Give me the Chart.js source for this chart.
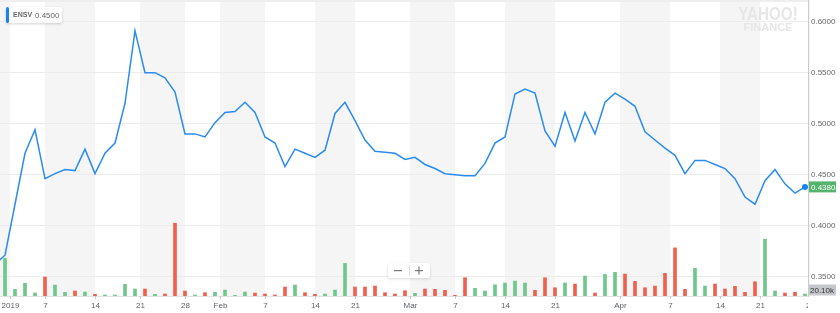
<!DOCTYPE html>
<html>
<head>
<meta charset="utf-8">
<script src="https://cdn.jsdelivr.net/npm/chart.js@4"></script>
<style>
  html, body { margin: 0; padding: 0; background: #fff; }
  canvas { display: block; }
</style>
</head>
<body>
<canvas id="chart" width="840" height="313"></canvas>
<script>
// trading days shown (first one sits just left of the plot)
const dates = [
  '2018-12-28', '2018-12-31',
  '2019-01-02', '2019-01-03', '2019-01-04', '2019-01-07', '2019-01-08', '2019-01-09', '2019-01-10',
  '2019-01-11', '2019-01-14', '2019-01-15', '2019-01-16', '2019-01-17', '2019-01-18', '2019-01-22',
  '2019-01-23', '2019-01-24', '2019-01-25', '2019-01-28', '2019-01-29', '2019-01-30', '2019-01-31',
  '2019-02-01', '2019-02-04', '2019-02-05', '2019-02-06', '2019-02-07', '2019-02-08', '2019-02-11',
  '2019-02-12', '2019-02-13', '2019-02-14', '2019-02-15', '2019-02-19', '2019-02-20', '2019-02-21',
  '2019-02-22', '2019-02-25', '2019-02-26', '2019-02-27', '2019-02-28',
  '2019-03-01', '2019-03-04', '2019-03-05', '2019-03-06', '2019-03-07', '2019-03-08', '2019-03-11',
  '2019-03-12', '2019-03-13', '2019-03-14', '2019-03-15', '2019-03-18', '2019-03-19', '2019-03-20',
  '2019-03-21', '2019-03-22', '2019-03-25', '2019-03-26', '2019-03-27', '2019-03-28', '2019-03-29',
  '2019-04-01', '2019-04-02', '2019-04-03', '2019-04-04', '2019-04-05', '2019-04-08', '2019-04-09',
  '2019-04-10', '2019-04-11', '2019-04-12', '2019-04-15', '2019-04-16', '2019-04-17', '2019-04-18',
  '2019-04-22', '2019-04-23', '2019-04-24', '2019-04-25', '2019-04-26'
];

// closing prices (USD)
const prices = [
  0.362, 0.371, 0.421, 0.471, 0.494, 0.446, 0.451, 0.455, 0.454, 0.475,
  0.451, 0.471, 0.481, 0.520, 0.591, 0.550, 0.550, 0.545, 0.531, 0.490,
  0.490, 0.487, 0.501, 0.511, 0.512, 0.521, 0.511, 0.487, 0.481, 0.458,
  0.475, 0.471, 0.467, 0.474, 0.510, 0.521, 0.503, 0.484, 0.473, 0.472,
  0.471, 0.465, 0.467, 0.460, 0.456, 0.451, 0.450, 0.449, 0.449, 0.461,
  0.481, 0.487, 0.529, 0.534, 0.530, 0.493, 0.478, 0.511, 0.483, 0.511,
  0.490, 0.521, 0.530, 0.524, 0.517, 0.492, 0.484, 0.476, 0.469, 0.451,
  0.464, 0.464, 0.460, 0.456, 0.446, 0.428, 0.421, 0.444, 0.455, 0.441,
  0.432, 0.438
];

// volume, thousands of shares
const volumes = [
  null,
  377, 67, 127, 30, 190, 110, 37, 50, 40, 17,
  10, 10, 117, 70, 70, 17, 20, 730, 50, 10,
  33, 37, 60, 7, 40, 30, 20, 10, 90, 110,
  33, 17, 20, 60, 327, 90, 90, 100, 33, 20,
  53, 27, 70, 67, 57, 7, 183, 77, 50, 113,
  130, 150, 130, 57, 183, 83, 130, 120, 200, 30,
  217, 237, 220, 147, 83, 100, 227, 483, 67, 277,
  100, 120, 70, 97, 37, 143, 570, 50, 30, 37,
  20.1
];

const tickDates = ['2019-01-01', '2019-01-07', '2019-01-14', '2019-01-21', '2019-01-28', '2019-02-01',
  '2019-02-07', '2019-02-14', '2019-02-21', '2019-03-01', '2019-03-07', '2019-03-14', '2019-03-21',
  '2019-04-01', '2019-04-07', '2019-04-14', '2019-04-21', '2019-04-29'];
const tickLabels = ['2019', '7', '14', '21', '28', 'Feb', '7', '14', '21', 'Mar', '7', '14', '21',
  'Apr', '7', '14', '21', '29'];
const priceTicks = [0.35, 0.40, 0.45, 0.50, 0.55, 0.60];
const symbol = 'ENSV';
const legendValue = '0.4500';

const FONT = '"Liberation Sans", Arial, sans-serif';
const BLUE = '#2b8cf0';
const GREEN = '#6fc78c';
const RED = '#f0604f';

// where a date tick sits on the trading-day axis:
// on the day itself, or between two days for month starts / closed days
function tickPos(d) {
  const i = dates.findIndex(x => x >= d);
  if (i < 0) return dates.length - 0.5;
  return (dates[i] === d && d.slice(8) !== '01') ? i : i - 0.5;
}
const tickValues = tickDates.map(tickPos);

const priceData = prices.map((p, i) => ({ x: i, y: p }));
const volumeData = volumes.map((v, i) => ({ x: i, y: v }));
const barColors = prices.map((p, i) => (i > 0 && p < prices[i - 1]) ? RED : GREEN);
const last = prices.length - 1;

const stripes = {
  id: 'stripes',
  beforeDraw(chart) {
    const { ctx, chartArea: a, scales: { x } } = chart;
    ctx.save();
    ctx.fillStyle = '#f5f5f5';
    const px = tickValues.map(v => x.getPixelForValue(v));
    // gray before the first tick, then every other week
    ctx.fillRect(0, 0, px[0], a.bottom);
    for (let k = 1; k < px.length; k += 2) {
      const r = Math.min(k + 1 < px.length ? px[k + 1] : a.right, a.right);
      ctx.fillRect(px[k], 0, r - px[k], a.bottom);
    }
    ctx.fillStyle = '#eeeeee';
    ctx.fillRect(0, 0, a.right, 2);
    ctx.restore();
  }
};

const lastDot = {
  id: 'lastDot',
  afterDatasetsDraw(chart) {
    const { ctx, scales: { x, y } } = chart;
    ctx.save();
    ctx.fillStyle = '#1a82f0';
    ctx.beginPath();
    ctx.arc(x.getPixelForValue(last), y.getPixelForValue(prices[last]), 3, 0, Math.PI * 2);
    ctx.fill();
    ctx.restore();
  }
};

const decorations = {
  id: 'decorations',
  afterDraw(chart) {
    const { ctx, chartArea: a, scales: { x, y, yv } } = chart;
    ctx.save();

    // x axis line, ticks and labels (clipped at the price axis)
    ctx.fillStyle = '#e2e2e2';
    ctx.fillRect(0, a.bottom, a.right, 1);
    ctx.beginPath();
    ctx.rect(0, a.bottom, a.right, 20);
    ctx.clip();
    ctx.font = '8px ' + FONT;
    ctx.textAlign = 'center';
    ctx.textBaseline = 'middle';
    tickValues.forEach((v, k) => {
      const p = Math.round(x.getPixelForValue(v)) + 0.5;
      ctx.strokeStyle = '#cccccc';
      ctx.lineWidth = 1;
      ctx.beginPath();
      ctx.moveTo(p, a.bottom);
      ctx.lineTo(p, a.bottom + 3);
      ctx.stroke();
      ctx.fillStyle = '#5f6368';
      ctx.fillText(tickLabels[k], p, a.bottom + 9.5);
    });
    ctx.restore();
    ctx.save();

    // last price / last volume badges on the right axis
    const py = y.getPixelForValue(prices[last]);
    ctx.fillStyle = '#55b56f';
    ctx.fillRect(a.right + 1, py - 5.5, 27, 11);
    ctx.font = '8px ' + FONT;
    ctx.textBaseline = 'middle';
    ctx.textAlign = 'left';
    ctx.fillStyle = '#ffffff';
    ctx.fillText(prices[last].toFixed(4), a.right + 3, py + 0.5);

    const vy = Math.min(yv.getPixelForValue(volumes[last]), a.bottom - 6);
    ctx.fillStyle = '#c4c7cb';
    ctx.fillRect(a.right + 1, vy - 5.5, 27, 11);
    ctx.fillStyle = '#333333';
    ctx.fillText(volumes[last].toFixed(2) + 'k', a.right + 2, vy + 0.5);

    // legend chip
    ctx.shadowColor = 'rgba(0,0,0,0.18)';
    ctx.shadowBlur = 3;
    ctx.shadowOffsetY = 1;
    ctx.fillStyle = '#ffffff';
    ctx.beginPath();
    ctx.roundRect(6, 7, 56, 16, 2);
    ctx.fill();
    ctx.shadowColor = 'transparent';
    ctx.fillStyle = '#1a82f0';
    ctx.beginPath();
    ctx.roundRect(6, 7, 3, 16, 1.5);
    ctx.fill();
    ctx.fillStyle = '#666666';
    ctx.font = 'bold 7px ' + FONT;
    ctx.fillText(symbol, 13, 15.5);
    ctx.font = '8px ' + FONT;
    ctx.fillText(legendValue, 35, 15.5);

    // watermark
    ctx.fillStyle = '#e6e6e6';
    ctx.textAlign = 'center';
    ctx.save();
    ctx.translate(768, 15);
    ctx.scale(0.8, 1);
    ctx.font = 'bold 19px ' + FONT;
    ctx.fillText('YAHOO!', 0, 0);
    ctx.restore();
    ctx.font = 'bold 11px ' + FONT;
    ctx.fillText('FINANCE', 768, 28);

    // zoom buttons
    ctx.shadowColor = 'rgba(0,0,0,0.15)';
    ctx.shadowBlur = 3;
    ctx.shadowOffsetY = 1;
    ctx.fillStyle = '#ffffff';
    ctx.beginPath();
    ctx.roundRect(388, 263, 42, 15, 2);
    ctx.fill();
    ctx.shadowColor = 'transparent';
    ctx.fillStyle = '#e2e2e2';
    ctx.fillRect(409, 265, 1, 11);
    ctx.fillStyle = '#7a7a7a';
    ctx.fillRect(394, 270, 8, 1.2);
    ctx.fillRect(415, 270, 8, 1.2);
    ctx.fillRect(418.4, 266.5, 1.2, 8);
    ctx.restore();
  }
};

new Chart(document.getElementById('chart'), {
  type: 'bar',
  data: {
    datasets: [
      {
        type: 'line',
        label: symbol,
        data: priceData,
        yAxisID: 'y',
        borderColor: BLUE,
        borderWidth: 1.5,
        tension: 0,
        pointRadius: 0,
        order: 0
      },
      {
        label: 'Volume',
        data: volumeData,
        yAxisID: 'yv',
        backgroundColor: barColors,
        barThickness: 3,
        order: 1
      }
    ]
  },
  options: {
    responsive: false,
    animation: false,
    devicePixelRatio: 1,
    layout: { padding: 0 },
    plugins: { legend: { display: false }, tooltip: { enabled: false } },
    scales: {
      x: {
        type: 'linear',
        offset: false,
        min: 0.5,
        max: 81.3,
        grid: { display: false, offset: false },
        border: { display: false },
        ticks: { display: false },
        afterFit: s => { s.height = 17; s.paddingLeft = 0; s.paddingRight = 0; }
      },
      y: {
        position: 'right',
        min: 0.331,
        max: 0.6213,
        afterBuildTicks: s => { s.ticks = priceTicks.map(v => ({ value: v })); },
        grid: { color: '#ececec', drawTicks: false },
        border: { color: '#cccccc' },
        ticks: {
          padding: 3,
          color: '#666666',
          font: { size: 8, family: FONT },
          callback: v => v.toFixed(4)
        },
        afterFit: s => { s.width = 32; s.paddingTop = 0; s.paddingBottom = 0; }
      },
      yv: {
        display: false,
        min: 0,
        max: 2970
      }
    }
  },
  plugins: [stripes, lastDot, decorations]
});
</script>
</body>
</html>
